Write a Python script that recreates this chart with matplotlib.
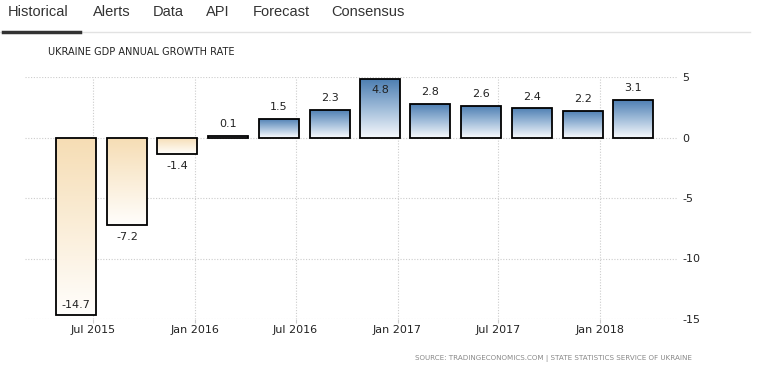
import numpy as np
import matplotlib.pyplot as plt
import matplotlib.dates as mdates
from matplotlib.colors import LinearSegmentedColormap
from matplotlib.lines import Line2D
from datetime import date

# Quarterly GDP growth, placed at the last month of each quarter
quarters = [date(2015, 6, 1), date(2015, 9, 1), date(2015, 12, 1),
            date(2016, 3, 1), date(2016, 6, 1), date(2016, 9, 1),
            date(2016, 12, 1), date(2017, 3, 1), date(2017, 6, 1),
            date(2017, 9, 1), date(2017, 12, 1), date(2018, 3, 1)]
growth = [-14.7, -7.2, -1.4, 0.1, 1.5, 2.3, 4.8, 2.8, 2.6, 2.4, 2.2, 3.1]

tick_dates = [date(2015, 7, 1), date(2016, 1, 1), date(2016, 7, 1),
              date(2017, 1, 1), date(2017, 7, 1), date(2018, 1, 1)]
tick_labels = ["Jul 2015", "Jan 2016", "Jul 2016", "Jan 2017", "Jul 2017", "Jan 2018"]
y_ticks = [5, 0, -5, -10, -15]

tabs = ["Historical", "Alerts", "Data", "API", "Forecast", "Consensus"]
tab_x = [8, 93, 153, 206, 253, 331]


def main():
    fig = plt.figure(figsize=(7.58, 3.68), dpi=100)
    ax = fig.add_axes([25 / 758, 49 / 368, 653 / 758, 242 / 368])

    x = mdates.date2num(quarters)
    width = 72  # days

    blue = LinearSegmentedColormap.from_list("blue", ["#f4f7fb", "#9dbad8", "#4a7cb1"])
    cream = LinearSegmentedColormap.from_list("cream", ["#fffefc", "#f6ddb4"])
    grad = np.linspace(0, 1, 256).reshape(-1, 1)

    bars = ax.bar(x, growth, width=width, color="none", edgecolor="black",
                  linewidth=1.3, zorder=4)
    for rect, v in zip(bars, growth):
        x0 = rect.get_x()
        x1 = x0 + rect.get_width()
        if v >= 0:
            im = ax.imshow(grad, extent=[x0, x1, 0, v], origin="lower",
                           aspect="auto", cmap=blue, zorder=3)
        else:
            im = ax.imshow(grad, extent=[x0, x1, v, 0], origin="lower",
                           aspect="auto", cmap=cream, zorder=3)
        im.set_clip_path(rect)

    # value labels
    for xi, v in zip(x, growth):
        if v >= 0:
            if v > 4.0:
                ax.annotate(f"{v:.1f}", (xi, v), xytext=(0, -4), textcoords="offset points",
                            ha="center", va="top", fontsize=8, color="#222", zorder=5)
            else:
                ax.annotate(f"{v:.1f}", (xi, v), xytext=(0, 5), textcoords="offset points",
                            ha="center", va="bottom", fontsize=8, color="#222", zorder=5)
        else:
            if v < -12:
                ax.annotate(f"{v:.1f}", (xi, v), xytext=(0, 4), textcoords="offset points",
                            ha="center", va="bottom", fontsize=8, color="#222", zorder=5)
            else:
                ax.annotate(f"{v:.1f}", (xi, v), xytext=(0, -5), textcoords="offset points",
                            ha="center", va="top", fontsize=8, color="#222", zorder=5)

    ax.set_xlim(mdates.date2num(date(2015, 3, 1)), mdates.date2num(date(2018, 5, 22)))
    ax.set_ylim(-15, 5)
    ax.set_xticks(mdates.date2num(tick_dates))
    ax.set_xticklabels(tick_labels, fontsize=8, color="#222")
    ax.set_yticks(y_ticks)
    ax.set_yticklabels([str(t) for t in y_ticks], fontsize=8, color="#222")
    ax.yaxis.tick_right()
    ax.tick_params(axis="y", length=0, pad=3)
    ax.tick_params(axis="x", length=3, color="#cccccc", pad=1)
    ax.grid(True, color="#cccccc", linestyle=(0, (1, 1.5)), linewidth=0.8, zorder=0)
    for s in ax.spines.values():
        s.set_visible(False)
    ax.set_axisbelow(True)

    # header tabs
    for t, tx in zip(tabs, tab_x):
        fig.text(tx / 758, 1 - 12 / 368, t, fontsize=10.5, color="#333",
                 family="Liberation Sans", ha="left", va="center")
    fig.add_artist(Line2D([0, 750 / 758], [1 - 32 / 368] * 2, color="#e2e2e2",
                          linewidth=1, transform=fig.transFigure))
    fig.add_artist(Line2D([3 / 758, 80 / 758], [1 - 32 / 368] * 2, color="#333",
                          linewidth=2.5, transform=fig.transFigure))

    fig.text(48 / 758, 1 - 52 / 368, "UKRAINE GDP ANNUAL GROWTH RATE", fontsize=7,
             color="#222", ha="left", va="center")
    fig.text(415 / 758, 9 / 368,
             "SOURCE: TRADINGECONOMICS.COM | STATE STATISTICS SERVICE OF UKRAINE",
             fontsize=5.1, color="#888", ha="left", va="center")

    fig.savefig("out.png", dpi=100)


if __name__ == "__main__":
    main()
